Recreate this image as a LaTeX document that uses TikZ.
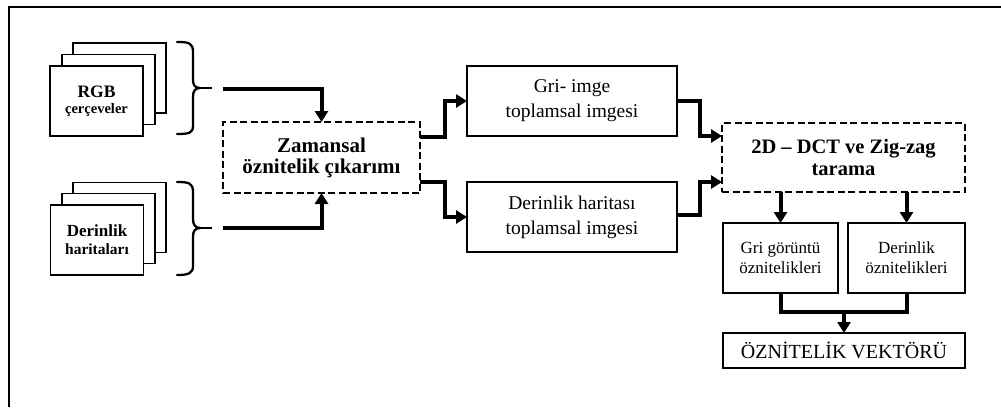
\documentclass[tikz,border=0pt]{standalone}
\usepackage{fontspec}
\setmainfont{Liberation Serif}
\usetikzlibrary{arrows.meta,calc}

\tikzset{
  box/.style={draw, line width=1.5pt, fill=white, inner sep=0pt, outer sep=0pt, align=center},
  page/.style={box, minimum width=93pt, minimum height=70pt},
  dbox/.style={draw, line width=2.3pt, dash pattern=on 7pt off 3.5pt, inner sep=0pt, outer sep=0pt, align=center},
  flow/.style={line width=4pt, -{Triangle[length=11pt,width=13pt]}},
  joint/.style={line width=4pt},
  bracepath/.style={line width=2.3pt, line cap=round},
}

\begin{document}
\begin{tikzpicture}[x=1pt,y=-1pt]
\useasboundingbox (0,0) rectangle (1001,407);

% frame (top and left edges)
\draw[line width=2pt] (9,407) -- (9,7) -- (1001,7);

% stacked RGB frames
\node[page] (rgbc) at (119.5,78) {};
\node[page] (rgbb) at (108.5,89.5) {};
\node[page, font=\bfseries\fontsize{17.5}{17}\selectfont] (rgba) at (96.5,101)
  {RGB\\[-1pt]{\fontsize{14.5}{14}\selectfont çerçeveler}};

% stacked depth maps
\node[page] (depc) at (119.5,217.5) {};
\node[page] (depb) at (108.5,228.5) {};
\node[page, font=\bfseries\fontsize{17}{18}\selectfont] (depa) at (97,240)
  {Derinlik\\{\fontsize{15.5}{15}\selectfont haritaları}};

% braces grouping each stack
\draw[bracepath] (177,42) .. controls (189,42) and (193,43) .. (193,52)
  -- (193,80) .. controls (193,85) and (195,88) .. (200,88)
  .. controls (195,88) and (193,91) .. (193,97)
  -- (193,126) .. controls (193,133) and (189,134) .. (177,134);
\draw[line width=2pt] (198,88) -- (212,88);
\coordinate (rgbtip) at (223,89);

\draw[bracepath] (177,182) .. controls (189,182) and (193,183) .. (193,192)
  -- (193,219) .. controls (193,224) and (195,228) .. (200,228)
  .. controls (195,228) and (193,231) .. (193,237)
  -- (193,266) .. controls (193,273) and (189,275) .. (177,275);
\draw[line width=2pt] (198,228) -- (212,228);
\coordinate (deptip) at (223,228);

% processing blocks
\node[dbox, minimum width=197pt, minimum height=71pt,
      font=\bfseries\fontsize{21}{21}\selectfont] (zam) at (321.5,157.5)
  {Zamansal\\öznitelik çıkarımı};

\node[box, minimum width=210pt, minimum height=70pt,
      font=\fontsize{19.5}{25}\selectfont] (gri) at (572,101)
  {Gri- imge\\toplamsal imgesi};
\node[box, minimum width=210pt, minimum height=70pt,
      font=\fontsize{19.5}{25}\selectfont] (der) at (572,217)
  {Derinlik haritası\\toplamsal imgesi};

\node[dbox, minimum width=243pt, minimum height=69pt,
      font=\bfseries\fontsize{20.5}{22}\selectfont] (dct) at (843.5,157.5)
  {2D – DCT ve Zig-zag\\tarama};

\node[box, minimum width=115pt, minimum height=70pt,
      font=\fontsize{17}{20}\selectfont] (grif) at (780.5,258)
  {Gri görüntü\\öznitelikleri};
\node[box, minimum width=117pt, minimum height=70pt,
      font=\fontsize{17}{20}\selectfont] (derf) at (906.5,258)
  {Derinlik\\öznitelikleri};

\node[box, minimum width=242pt, minimum height=35pt,
      font=\fontsize{20}{20}\selectfont] (vek) at (844,350.5)
  {ÖZNİTELİK VEKTÖRÜ};

% connectors
\draw[flow] (rgbtip) -| (zam);
\draw[flow] (deptip) -| (zam);

\draw[flow] ([yshift=20.5pt]zam.east) -- ++(25,0) |- (gri.west);
\draw[flow] ([yshift=-24.5pt]zam.east) -- ++(25,0) |- (der.west);

\draw[flow] (gri.east) -- ++(23,0) |- ([yshift=21.5pt]dct.west);
\draw[flow] ([yshift=2pt]der.east) -- ++(23,0) |- ([yshift=-24.5pt]dct.west);

\draw[flow] (dct.south -| grif.north) -- (grif.north);
\draw[flow] (dct.south -| derf.north) -- (derf.north);

\draw[joint] (grif.south) -- ++(0,19) coordinate (merge) -| (derf.south);
\draw[flow] (merge -| vek.north) -- (vek.north);
\end{tikzpicture}
\end{document}
